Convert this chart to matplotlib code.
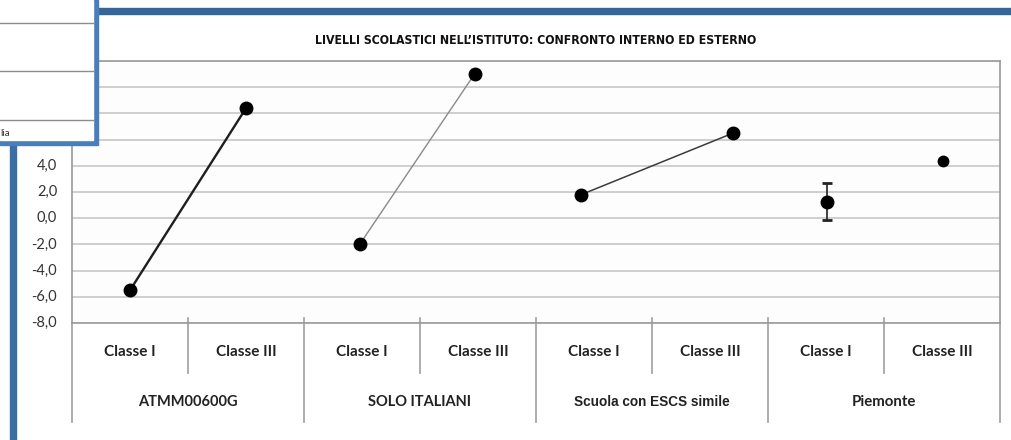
import numpy as np
import matplotlib
matplotlib.use("Agg")
import matplotlib.pyplot as plt
from matplotlib.patches import Rectangle
from matplotlib.lines import Line2D

# ---- data ----
groups = ["ATMM00600G", "SOLO ITALIANI", "Scuola con ESCS simile", "Piemonte"]
classes = ["Classe I", "Classe III"]
classe_I = [-5.5, -2.0, 1.8, 1.2]
classe_III = [8.4, 11.0, 6.5, 4.4]
piemonte_err_low = [1.35]
piemonte_err_high = [1.5]
yticks = [-8, -6, -4, -2, 0, 2, 4, 6, 8, 10, 12]
title = "LIVELLI SCOLASTICI NELL\u2019ISTITUTO: CONFRONTO INTERNO ED ESTERNO"

# ---- styling ----
W, H = 1011, 440
fig = plt.figure(figsize=(W / 100, H / 100), dpi=100)
fig.patch.set_facecolor("white")

def fx(px):
    return px / W

def fy(py):
    return 1 - py / H

x0, x1, ytop, ybot = 72, 1000, 61, 323
ax = fig.add_axes([fx(x0), fy(ybot), fx(x1) - fx(x0), fy(ytop) - fy(ybot)])
ax.set_facecolor("#fdfdfd")
ax.set_xlim(0, 8)
ax.set_ylim(-8, 12)
ax.set_yticks(yticks)
ax.grid(axis="y", color="#cccccc", lw=1.3)
ax.set_axisbelow(True)
for s in ax.spines.values():
    s.set_color("#9a9a9a")
    s.set_linewidth(1.2)
ax.set_xticks([])
ax.tick_params(axis="y", length=0)
ax.set_yticklabels([])
tick_font = ["Lato", "DejaVu Sans"]
for v in yticks:
    ax.text(-0.016, v, f"{v:.1f}".replace(".", ","), transform=ax.get_yaxis_transform(),
            ha="right", va="center", fontsize=10.5, family=tick_font, color="#333333",
            zorder=1)

line_styles = [
    dict(color="#1e1e1e", lw=1.7),
    dict(color="#8a8a8a", lw=1.0),
    dict(color="#3c3c3c", lw=1.1),
    None,
]
x_shift = [(0.0, 0.0), (-0.02, -0.03), (-0.11, 0.20), (0.01, 0.01)]

for i, g in enumerate(groups):
    xa = 2 * i + 0.5 + x_shift[i][0]
    xb = 2 * i + 1.5 + x_shift[i][1]
    ya, yb = classe_I[i], classe_III[i]
    st = line_styles[i]
    if st is not None:
        ax.plot([xa, xb], [ya, yb], color=st["color"], lw=st["lw"], zorder=3)
        ax.plot([xa, xb], [ya, yb], ls="none", marker="o", ms=9, color="black", zorder=4)
    else:
        ax.errorbar([xa], [ya], yerr=[piemonte_err_low, piemonte_err_high], fmt="o",
                    ms=9, color="black", ecolor="#222222", elinewidth=1.2,
                    capsize=3.5, capthick=2, zorder=4)
        ax.plot([xb], [yb], ls="none", marker="o", ms=7.5, color="black", zorder=4)

# category axis
def ay(py):
    return (ybot - py) / (ybot - ytop)

for k in range(9):
    if k % 2 == 0:
        y_lo = ay(422)
        y_hi = ay(323) if k in (0, 8) else ay(318)
    else:
        y_lo = ay(373)
        y_hi = ay(318)
    ax.add_line(Line2D([k, k], [y_lo, y_hi], transform=ax.get_xaxis_transform(),
                       color="#a0a0a0", lw=1.2, clip_on=False))

group_fonts = [tick_font, tick_font, ["Liberation Sans", "DejaVu Sans"], tick_font]
group_sizes = [10.5, 10.5, 9.8, 10.8]
for i, g in enumerate(groups):
    for j, c in enumerate(classes):
        ax.text(2 * i + j + 0.5, ay(352), c, transform=ax.get_xaxis_transform(),
                ha="center", va="center", fontsize=11, family=tick_font,
                fontweight="bold", color="#222222")
    ax.text(2 * i + 1, ay(402), g, transform=ax.get_xaxis_transform(),
            ha="center", va="center", fontsize=group_sizes[i], family=group_fonts[i],
            fontweight="bold", color="#222222")

# title
fig.text(fx(536), fy(40), title, ha="center", va="center", fontsize=8.8,
         family=["DejaVu Sans"], fontstretch="condensed", fontweight="semibold",
         color="#111111")

# ---- screenshot decorations ----
fig.patches.append(Rectangle((fx(96), fy(14)), fx(W) - fx(96), fy(8) - fy(14),
                             transform=fig.transFigure, color="#336699", zorder=5))
fig.patches.append(Rectangle((fx(10), fy(H)), fx(16) - fx(10), fy(144) - fy(H),
                             transform=fig.transFigure, color="#3b6ea5", zorder=5))
fig.patches.append(Rectangle((0, fy(145)), fx(98), fy(0) - fy(145),
                             transform=fig.transFigure, color="#4a7ebb", zorder=6))
fig.patches.append(Rectangle((0, fy(140)), fx(93), fy(0) - fy(140),
                             transform=fig.transFigure, color="white", zorder=7))
for py in (23, 71, 120):
    fig.lines.append(Line2D([0, fx(93)], [fy(py), fy(py)], transform=fig.transFigure,
                            color="#8c8c8c", lw=1.0, zorder=8))
fig.text(fx(0), fy(134), "lia", ha="left", va="center", fontsize=7,
         family=tick_font, color="#333333", zorder=9)

fig.savefig("out.png", dpi=100)
